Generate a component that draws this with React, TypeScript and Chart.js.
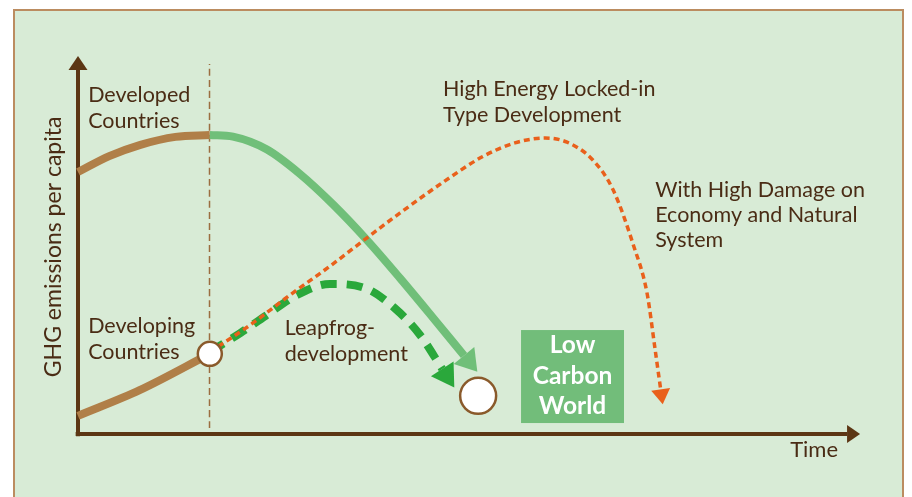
import React, { useEffect, useRef } from "react";
import { Chart, registerables } from "chart.js";

Chart.register(...registerables);

// ---- data (x: time 0..100, y: GHG emissions per capita 0..100) ----
const developedHistory: number[][] = [[0, 69.3], [4, 73.5], [8, 76.5], [12.5, 78.6], [16.9, 79.1]];
const developedLowCarbon: number[][] = [[16.9, 79.1], [19.87, 78.65], [24.23, 75.24], [28.46, 68.78], [32.69, 60.74], [37.05, 51.3], [41.28, 41.24], [45.51, 30.77], [49.49, 20.77]];
const developingHistory: number[][] = [[0, 4.8], [7.9, 11.6], [16.9, 21.2]];
const lockedInPath: number[][] = [[16.9, 21.7], [22.05, 28.8], [27.2, 36.8], [32.3, 44.4], [37.05, 51.9], [41.3, 58.5], [46.8, 66.6], [51.9, 73.4], [56.0, 77.0], [59.9, 78.3], [62.7, 77.2], [66.0, 72.5], [68.6, 64.6], [71.2, 50.0], [72.95, 37.3], [74.0, 22.2], [74.7, 11.8]];
const leapfrogPath: number[][] = [[16.9, 21.7], [20.8, 26.7], [24.0, 31.2], [28.1, 36.8], [32.3, 39.7], [36.8, 38.6], [40.6, 33.3], [43.85, 26.2], [46.7, 17.2]];
const branchPoint: number[][] = [[16.9, 21.2]];
const lowCarbonPoint: number[][] = [[51.3, 10.1]];
const timeAxis: number[][] = [[-0.3, 0], [98.6, 0]];
const emissionsAxis: number[][] = [[0, -0.6], [0, 96.3]];
const presentLine: number[][] = [[16.86, 1.6], [16.86, 97.9]];

const axisTitleX = "Time";
const axisTitleY = "GHG emissions per capita";
const textLabels = [
  { lines: ["Developed", "Countries"], x: 1.3, y: 87.8, lh: 25.5 },
  { lines: ["Developing", "Countries"], x: 1.3, y: 26.7, lh: 26 },
  { lines: ["Leapfrog-", "development"], x: 26.5, y: 26.2, lh: 26.5 },
  { lines: ["High Energy Locked-in", "Type Development"], x: 46.8, y: 89.4, lh: 26 },
  { lines: ["With High Damage on", "Economy and Natural", "System"], x: 74.0, y: 62.7, lh: 25 },
];
const boxLabel = ["Low", "Carbon", "World"];

const TEXT = "#4a2c15";
const FONT = "Lato, 'Open Sans', sans-serif";

const pts = (a: number[][]) => a.map(([x, y]) => ({ x, y }));

const arrowPlugin = {
  id: "arrows",
  afterDatasetsDraw(chart: any) {
    const ctx = chart.ctx;
    chart.data.datasets.forEach((ds: any, i: number) => {
      if (!ds.arrow) return;
      const meta = chart.getDatasetMeta(i);
      const n = meta.data.length;
      const p0 = meta.data[n - 2];
      const p1 = meta.data[n - 1];
      let dx = p1.x - p0.x, dy = p1.y - p0.y;
      const d = Math.hypot(dx, dy);
      dx /= d; dy /= d;
      const { len, half } = ds.arrow;
      ctx.save();
      ctx.fillStyle = ds.borderColor;
      ctx.beginPath();
      ctx.moveTo(p1.x + dx * len, p1.y + dy * len);
      ctx.lineTo(p1.x - dy * half, p1.y + dx * half);
      ctx.lineTo(p1.x + dy * half, p1.y - dx * half);
      ctx.closePath();
      ctx.fill();
      ctx.restore();
    });
  },
};

const decorPlugin = {
  id: "decor",
  beforeDraw(chart: any) {
    const ctx = chart.ctx;
    ctx.save();
    ctx.fillStyle = "#ffffff";
    ctx.fillRect(0, 0, chart.width, chart.height);
    ctx.fillStyle = "#d8ebd6";
    ctx.fillRect(14, 10, 889, 495);
    ctx.strokeStyle = "#bb8c60";
    ctx.lineWidth = 2;
    ctx.strokeRect(14, 10, 889, 495);
    ctx.restore();
  },
  afterDraw(chart: any) {
    const ctx = chart.ctx;
    const xs = chart.scales.x, ys = chart.scales.y;
    ctx.save();
    ctx.fillStyle = TEXT;
    ctx.textAlign = "left";
    ctx.textBaseline = "alphabetic";
    ctx.font = `21.5px ${FONT}`;
    textLabels.forEach((l) => {
      const px = xs.getPixelForValue(l.x);
      const py = ys.getPixelForValue(l.y);
      l.lines.forEach((t, k) => ctx.fillText(t, px, py + k * l.lh));
    });
    ctx.font = `22px ${FONT}`;
    ctx.fillText(axisTitleX, xs.getPixelForValue(91.3), ys.getPixelForValue(-6.1));
    // y axis title
    ctx.save();
    ctx.translate(xs.getPixelForValue(-2.2), ys.getPixelForValue(49.5));
    ctx.rotate(-Math.PI / 2);
    ctx.textAlign = "center";
    ctx.font = `23px ${FONT}`;
    ctx.fillText(axisTitleY, 0, 0);
    ctx.restore();
    // Low Carbon World box
    const bx0 = xs.getPixelForValue(56.8), bx1 = xs.getPixelForValue(70.0);
    const by0 = ys.getPixelForValue(27.5), by1 = ys.getPixelForValue(2.9);
    ctx.fillStyle = "#72bd7a";
    ctx.fillRect(bx0, by0, bx1 - bx0, by1 - by0);
    ctx.fillStyle = "#ffffff";
    ctx.textAlign = "center";
    ctx.font = `bold 24.5px ${FONT}`;
    const cx = xs.getPixelForValue(63.4);
    const cy = ys.getPixelForValue(21.4);
    boxLabel.forEach((t, k) => ctx.fillText(t, cx, cy + k * 30.5));
    ctx.restore();
  },
};

export default function App() {
  const ref = useRef<HTMLCanvasElement | null>(null);
  useEffect(() => {
    document.body.style.margin = "0";
    const canvas = ref.current;
    if (!canvas) return;
    const line = (data: number[][], color: string, width: number, extra: any = {}) => ({
      data: pts(data),
      showLine: true,
      borderColor: color,
      backgroundColor: color,
      borderWidth: width,
      pointRadius: 0,
      pointHoverRadius: 0,
      tension: 0.4,
      cubicInterpolationMode: "monotone",
      clip: false,
      ...extra,
    });
    const chart = new Chart(canvas, {
      type: "scatter",
      data: {
        datasets: [
          {
            data: pts(branchPoint),
            showLine: false,
            pointRadius: 12,
            pointBorderWidth: 2.5,
            pointBackgroundColor: "#ffffff",
            pointBorderColor: "#8a5a2b",
            clip: false,
          },
          {
            data: pts(lowCarbonPoint),
            showLine: false,
            pointRadius: 18,
            pointBorderWidth: 2.5,
            pointBackgroundColor: "#ffffff",
            pointBorderColor: "#8a5a2b",
            clip: false,
          },
          line(lockedInPath, "#e9601b", 3.5, { borderDash: [6, 4], arrow: { len: 15, half: 9.5 } }),
          line(leapfrogPath, "#2aa83b", 8, { borderDash: [16, 10], arrow: { len: 22, half: 13.5 } }),
          line(developedLowCarbon, "#70bf79", 8, { arrow: { len: 21, half: 13.3 } }),
          line(developedHistory, "#b07f48", 8),
          line(developingHistory, "#b07f48", 8),
          line(presentLine, "#9b6d40", 1.5, { borderDash: [7, 4], tension: 0 }),
          line(timeAxis, "#5c3614", 4, { tension: 0, arrow: { len: 13, half: 9 } }),
          line(emissionsAxis, "#5c3614", 4, { tension: 0, arrow: { len: 14, half: 9.5 } }),
        ] as any,
      },
      options: {
        responsive: false,
        animation: false,
        events: [],
        layout: { padding: { left: 78, right: 54, top: 56, bottom: 63 } },
        plugins: { legend: { display: false }, tooltip: { enabled: false } },
        scales: {
          x: { type: "linear", min: 0, max: 100, display: false },
          y: { type: "linear", min: 0, max: 100, display: false },
        },
      },
      plugins: [decorPlugin, arrowPlugin],
    });
    return () => chart.destroy();
  }, []);
  return (
    <div style={{ width: 912, height: 497 }}>
      <canvas ref={ref} width={912} height={497} style={{ display: "block" }} />
    </div>
  );
}
